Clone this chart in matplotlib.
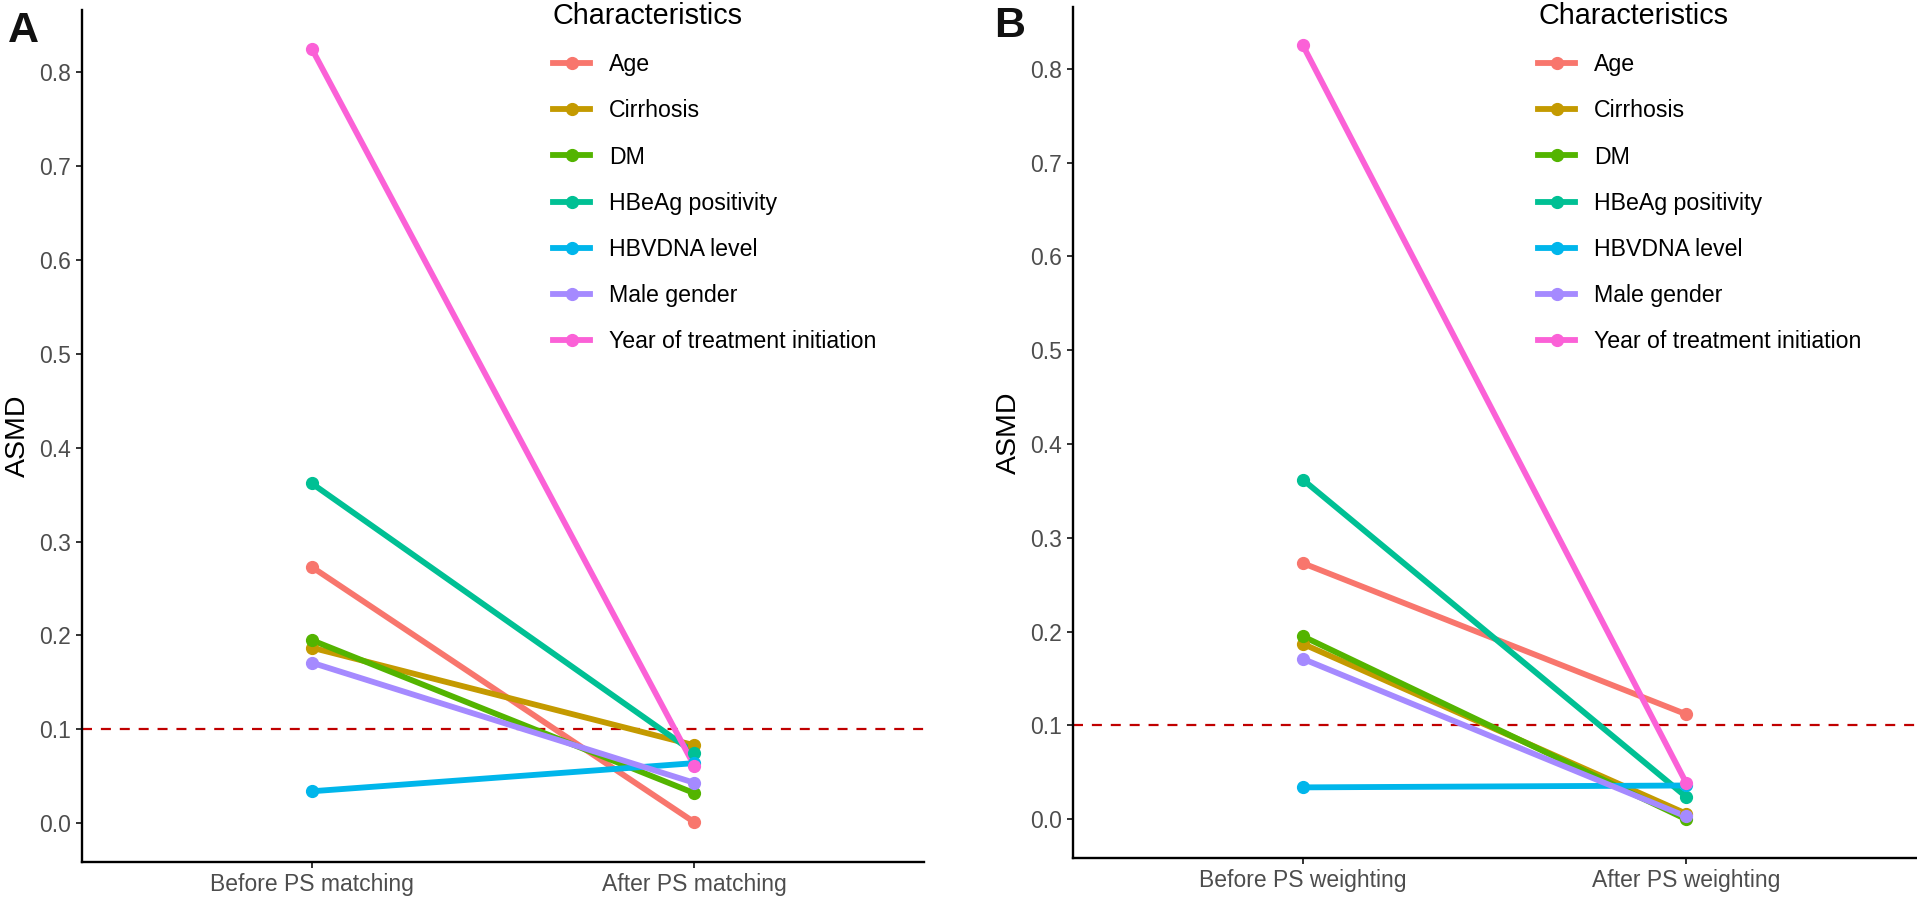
"""
ASMD before/after propensity score adjustment, two panels (matching / weighting).
Writes out.png
"""

import matplotlib.pyplot as plt
from matplotlib.lines import Line2D

plt.rcParams["font.family"] = ["Liberation Sans", "DejaVu Sans"]

CHARACTERISTICS = [
    "Age",
    "Cirrhosis",
    "DM",
    "HBeAg positivity",
    "HBVDNA level",
    "Male gender",
    "Year of treatment initiation",
]
COLORS = ["#F8766D", "#C49A00", "#53B400", "#00C094", "#00B6EB", "#A58AFF", "#FB61D7"]

ASMD_BEFORE = [0.273, 0.187, 0.195, 0.362, 0.034, 0.171, 0.825]
ASMD_AFTER_MATCHING = [0.001, 0.083, 0.032, 0.075, 0.064, 0.043, 0.061]
ASMD_AFTER_WEIGHTING = [0.112, 0.006, 0.000, 0.024, 0.036, 0.003, 0.039]

LABELS_MATCHING = ["Before PS matching", "After PS matching"]
LABELS_WEIGHTING = ["Before PS weighting", "After PS weighting"]

THRESHOLD = 0.1
Y_TICKS = [0.0, 0.1, 0.2, 0.3, 0.4, 0.5, 0.6, 0.7, 0.8]

W, H = 1917, 898


def px_axes(fig, left, top, right, bottom):
    return fig.add_axes([left / W, 1 - bottom / H, (right - left) / W, (bottom - top) / H])


def draw_panel(ax, after, xlabels):
    xs = [0, 1]
    for before_val, after_val, color in zip(ASMD_BEFORE, after, COLORS):
        ax.plot(xs, [before_val, after_val], color=color, lw=4.2, solid_capstyle="butt", zorder=2)
    for before_val, after_val, color in zip(ASMD_BEFORE, after, COLORS):
        ax.plot(xs, [before_val, after_val], ls="none", marker="o", ms=8.5,
                color=color, mec=color, zorder=3)
    ax.axhline(THRESHOLD, color="#C00000", lw=1.6, ls=(0, (4.5, 4)), zorder=1)

    ax.set_xlim(-0.6, 1.6)
    ax.set_ylim(-0.0413, 0.866)
    ax.set_xticks(xs)
    ax.set_xticklabels(xlabels)
    ax.set_yticks(Y_TICKS)
    ax.set_yticklabels([f"{v:.1f}" for v in Y_TICKS])
    ax.set_ylabel("ASMD", fontsize=20.5, color="black", labelpad=6)

    for side in ("top", "right"):
        ax.spines[side].set_visible(False)
    for side in ("left", "bottom"):
        ax.spines[side].set_linewidth(1.7)
        ax.spines[side].set_color("black")
    ax.tick_params(axis="both", length=4, width=1.4, color="#333333",
                   labelsize=16.5, labelcolor="#4D4D4D", pad=4)


def add_legend(fig, x_px, y_px):
    handles = [
        Line2D([], [], color=c, lw=4.2, marker="o", ms=8.5, mec=c) for c in COLORS
    ]
    leg = fig.legend(
        handles,
        CHARACTERISTICS,
        title="Characteristics",
        loc="upper left",
        bbox_to_anchor=(x_px / W, 1 - y_px / H),
        frameon=False,
        fontsize=16.7,
        title_fontsize=20.7,
        handlelength=1.6,
        handletextpad=0.8,
        labelspacing=1.0,
        borderpad=0,
        borderaxespad=0,
        alignment="left",
    )
    return leg


def main():
    fig = plt.figure(figsize=(W / 100, H / 100), dpi=100)

    ax_a = px_axes(fig, 82, 10, 924, 862)
    draw_panel(ax_a, ASMD_AFTER_MATCHING, LABELS_MATCHING)

    ax_b = px_axes(fig, 1073, 7, 1916, 858)
    draw_panel(ax_b, ASMD_AFTER_WEIGHTING, LABELS_WEIGHTING)

    add_legend(fig, 553, 2)
    add_legend(fig, 1538, 2)

    fig.text(8 / W, 1 - 42 / H, "A", fontsize=31, fontweight="bold", color="#111111")
    fig.text(994 / W, 1 - 37 / H, "B", fontsize=31, fontweight="bold", color="#111111")

    fig.savefig("out.png", dpi=100)
    plt.close(fig)


if __name__ == "__main__":
    main()
